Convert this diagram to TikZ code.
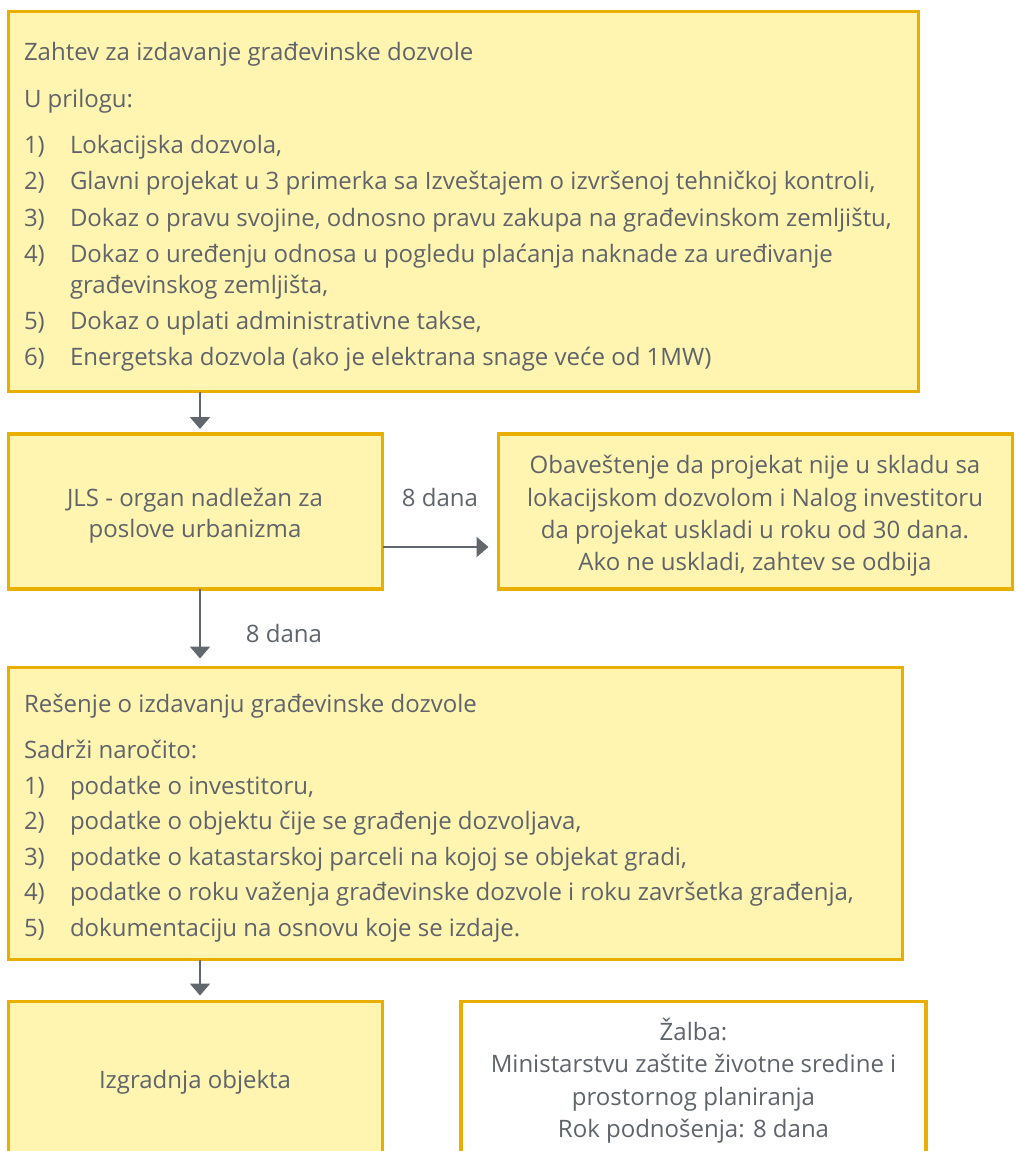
\documentclass[tikz,border=0pt]{standalone}
\usepackage{fontspec}
\setmainfont{Open Sans}
\usetikzlibrary{arrows.meta}
\definecolor{boxfill}{HTML}{FFF5B0}
\definecolor{boxline}{HTML}{E8AE00}
\definecolor{txtgrey}{HTML}{5F646B}
\definecolor{arrgrey}{HTML}{62676D}
\tikzset{
  box/.style={draw=boxline, fill=boxfill, line width=3.2pt, rectangle, inner sep=0pt, outer sep=0pt, anchor=north west},
  whitebox/.style={box, fill=white},
  txt/.style={inner sep=0pt, outer sep=0pt, text=txtgrey, font=\fontsize{24}{32}\selectfont, anchor=base west},
  ctxt/.style={txt, anchor=base},
  arr/.style={draw=arrgrey, line width=2.4pt, -{Triangle[length=12pt,width=20pt]}},
}
\begin{document}
\begin{tikzpicture}[x=1pt,y=-1pt]
\clip (0,0) rectangle (1016,1151);
\fill[white] (0,0) rectangle (1016,1151);
% boxes
\node[box, minimum width=910pt, minimum height=380pt] (b1) at (8.5,11.5) {};
\node[box, minimum width=374pt, minimum height=155pt] (b2) at (8.5,434) {};
\node[box, minimum width=514pt, minimum height=155pt] (b3) at (498.5,434) {};
\node[box, minimum width=894pt, minimum height=292pt] (b4) at (8.5,667.5) {};
\node[box, minimum width=374pt, minimum height=200pt] (b5) at (8.5,1001.5) {};
\node[whitebox, minimum width=465pt, minimum height=200pt] (b6) at (461,1001.5) {};
% box 1 text
\node[txt] (t1a) at (24,60) {Zahtev za izdavanje građevinske dozvole};
\node[txt] (t1b) at (24,107) {U prilogu:};
\node[txt] (n11) at (24,153) {1)};
\node[txt] (i11) at (70,153) {Lokacijska dozvola,};
\node[txt] (n12) at (24,189.5) {2)};
\node[txt] (i12) at (70,189.5) {Glavni projekat u 3 primerka sa Izveštajem o izvršenoj tehničkoj kontroli,};
\node[txt] (n13) at (24,226) {3)};
\node[txt] (i13) at (70,226) {Dokaz o pravu svojine, odnosno pravu zakupa na građevinskom zemljištu,};
\node[txt] (n14) at (24,262) {4)};
\node[txt] (i14) at (70,262) {Dokaz o uređenju odnosa u pogledu plaćanja naknade za uređivanje};
\node[txt] (i14b) at (70,293) {građevinskog zemljišta,};
\node[txt] (n15) at (24,329.5) {5)};
\node[txt] (i15) at (70,329.5) {Dokaz o uplati administrativne takse,};
\node[txt] (n16) at (24,365) {6)};
\node[txt] (i16) at (70,365) {Energetska dozvola (ako je elektrana snage veće od 1MW)};
% box 2 and 3 text
\node[ctxt] (t2a) at (195,506) {JLS - organ nadležan za};
\node[ctxt] (t2b) at (195,537) {poslove urbanizma};
\node[ctxt] (t3a) at (755,473.5) {Obaveštenje da projekat nije u skladu sa};
\node[ctxt] (t3b) at (755,506) {lokacijskom dozvolom i Nalog investitoru};
\node[ctxt] (t3c) at (755,538) {da projekat uskladi u roku od 30 dana.};
\node[ctxt] (t3d) at (755,570) {Ako ne uskladi, zahtev se odbija};
% labels
\node[ctxt] (l1) at (440,506) {8 dana};
\node[ctxt] (l2) at (284,642) {8 dana};
% box 4 text
\node[txt] (t4a) at (24,712) {Rešenje o izdavanju građevinske dozvole};
\node[txt] (t4b) at (24,758) {Sadrži naročito:};
\node[txt] (n41) at (24,794) {1)};
\node[txt] (i41) at (70,794) {podatke o investitoru,};
\node[txt] (n42) at (24,829.5) {2)};
\node[txt] (i42) at (70,829.5) {podatke o objektu čije se građenje dozvoljava,};
\node[txt] (n43) at (24,865) {3)};
\node[txt] (i43) at (70,865) {podatke o katastarskoj parceli na kojoj se objekat gradi,};
\node[txt] (n44) at (24,900.5) {4)};
\node[txt] (i44) at (70,900.5) {podatke o roku važenja građevinske dozvole i roku završetka građenja,};
\node[txt] (n45) at (24,936) {5)};
\node[txt] (i45) at (70,936) {dokumentaciju na osnovu koje se izdaje.};
% box 5 and 6 text
\node[ctxt] (t5) at (195,1088) {Izgradnja objekta};
\node[ctxt] (t6a) at (693.5,1040) {Žalba:};
\node[ctxt] (t6b) at (693.5,1072.5) {Ministarstvu zaštite životne sredine i};
\node[ctxt] (t6c) at (693.5,1105) {prostornog planiranja};
\node[ctxt] (t6d) at (693.5,1137) {Rok podnošenja: 8 dana};
% connectors
\coordinate (ax) at (200,0);
\coordinate (ay) at (0,547);
\draw[arr, shorten >=5pt] (b1.south -| ax) -- (b2.north -| ax);
\draw[arr, shorten >=9pt] (b2.south -| ax) -- (b4.north -| ax);
\draw[arr, shorten >=6pt] (b4.south -| ax) -- (b5.north -| ax);
\draw[arr, shorten >=10pt] (b2.east |- ay) -- (b3.west |- ay);
\end{tikzpicture}
\end{document}
